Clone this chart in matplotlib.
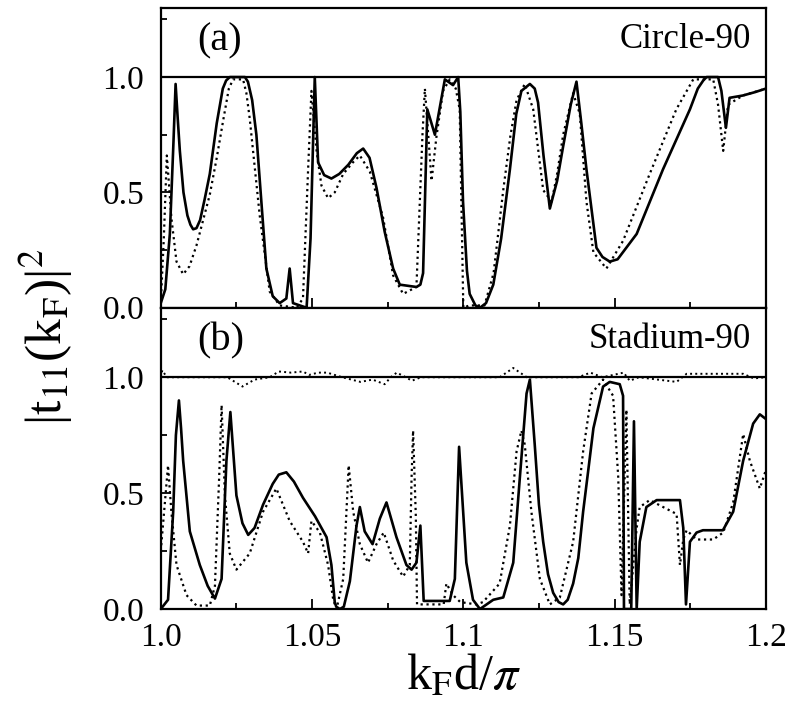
import matplotlib.pyplot as plt
from matplotlib.ticker import MultipleLocator

plt.rcParams['font.family'] = ['Liberation Serif', 'DejaVu Serif']
plt.rcParams['mathtext.fontset'] = 'stix'

# (a) Circle-90
xa_solid = [1.0, 1.0015, 1.003, 1.0042, 1.0049, 1.0056, 1.0063, 1.0075, 1.0088, 1.0098, 1.0107,
            1.0118, 1.013, 1.0145, 1.0162, 1.0185, 1.0205, 1.0216, 1.0228, 1.0278, 1.0288,
            1.0302, 1.0316, 1.0333, 1.0349, 1.037, 1.0393, 1.0415, 1.0426, 1.0437, 1.0482,
            1.0495, 1.0509, 1.052, 1.054, 1.0564, 1.059, 1.062, 1.0648, 1.0669, 1.069, 1.0713,
            1.074, 1.0768, 1.079, 1.0845, 1.0858, 1.0867, 1.0881, 1.0906, 1.0939, 1.0966,
            1.0983, 1.099, 1.0999, 1.1012, 1.1021, 1.104, 1.1055, 1.1075, 1.1099, 1.1125,
            1.1154, 1.1175, 1.1192, 1.122, 1.1236, 1.1247, 1.1265, 1.1286, 1.131, 1.133,
            1.1355, 1.1374, 1.139, 1.1407, 1.144, 1.146, 1.1484, 1.151, 1.1573, 1.166, 1.1749,
            1.1775, 1.1793, 1.1804, 1.1842, 1.1853, 1.1868, 1.188, 1.1924, 1.1965, 1.2]
ya_solid = [0.02, 0.08, 0.32, 0.72, 0.97, 0.82, 0.68, 0.50, 0.40, 0.36, 0.34,
            0.345, 0.38, 0.47, 0.58, 0.80, 0.95, 0.985, 1.0, 1.0, 0.98,
            0.90, 0.75, 0.45, 0.17, 0.05, 0.02, 0.04, 0.17, 0.02, 0.0,
            0.3, 1.0, 0.63, 0.575, 0.56, 0.58, 0.62, 0.67, 0.69, 0.65, 0.52,
            0.33, 0.17, 0.10, 0.09, 0.10, 0.15, 0.86, 0.75, 0.99, 0.965,
            1.0, 0.85, 0.46, 0.16, 0.06, 0.01, 0.0, 0.02, 0.10, 0.30,
            0.60, 0.84, 0.94, 0.97, 0.95, 0.89, 0.66, 0.43, 0.55, 0.70,
            0.88, 0.98, 0.80, 0.60, 0.26, 0.22, 0.20, 0.21, 0.32, 0.60, 0.86,
            0.95, 0.985, 1.0, 1.0, 0.94, 0.78, 0.91, 0.92, 0.935, 0.95]

xa_dot = [1.0, 1.001, 1.002, 1.0028, 1.0035, 1.0052, 1.0074, 1.0095, 1.0118, 1.014, 1.0162,
          1.0185, 1.0206, 1.0225, 1.0239, 1.0272, 1.0283, 1.0294, 1.0327, 1.036, 1.0393,
          1.0449, 1.047, 1.0487, 1.0498, 1.0515, 1.0531, 1.0553, 1.0575, 1.0603, 1.0635,
          1.0658, 1.0691, 1.0735, 1.0768, 1.0801, 1.0845, 1.0865, 1.0873, 1.0895, 1.0911,
          1.0933, 1.0955, 1.0975, 1.0988, 1.1, 1.102, 1.107, 1.11, 1.1132, 1.1155, 1.1176,
          1.1203, 1.1231, 1.1264, 1.1292, 1.131, 1.133, 1.1363, 1.1385, 1.1407, 1.143,
          1.1473, 1.1528, 1.1616, 1.1704, 1.176, 1.1826, 1.1842, 1.1859, 1.1875, 1.1924, 1.2]
ya_dot = [0.02, 0.3, 0.66, 0.52, 0.39, 0.20, 0.145, 0.18, 0.27, 0.38, 0.49,
          0.65, 0.81, 0.95, 0.99, 0.99, 0.93, 0.82, 0.40, 0.07, 0.01,
          0.0, 0.04, 0.60, 0.94, 0.68, 0.53, 0.475, 0.50, 0.58, 0.63,
          0.66, 0.59, 0.39, 0.14, 0.06, 0.09, 0.75, 0.95, 0.55, 0.74,
          0.94, 0.99, 0.95, 0.86, 0.0, 0.01, 0.01, 0.15, 0.51, 0.74, 0.90,
          0.97, 0.86, 0.51, 0.46, 0.58, 0.75, 0.93, 0.84, 0.46, 0.24,
          0.17, 0.29, 0.58, 0.86, 0.99, 0.99, 0.88, 0.68, 0.88, 0.92, 0.95]

# (b) Stadium-90
xb_solid = [1.0, 1.0024, 1.0041, 1.005, 1.006, 1.0067, 1.0074, 1.0096, 1.0129, 1.0155, 1.0179,
            1.0201, 1.0217, 1.023, 1.025, 1.027, 1.0289, 1.031, 1.0338, 1.037, 1.039, 1.0415,
            1.044, 1.047, 1.051, 1.0548, 1.0564, 1.0575, 1.058, 1.0592, 1.0605, 1.0625,
            1.0647, 1.0658, 1.0674, 1.07, 1.0724, 1.0746, 1.0779, 1.0812, 1.0829, 1.0845,
            1.0858, 1.0869, 1.0955, 1.0972, 1.0986, 1.101, 1.1032, 1.1055, 1.1099, 1.1132,
            1.1165, 1.1187, 1.1209, 1.122, 1.1236, 1.125, 1.1264, 1.128, 1.1297, 1.1315,
            1.133, 1.1345, 1.1363, 1.138, 1.1396, 1.1415, 1.143, 1.1462, 1.1484, 1.1517,
            1.1528, 1.1531, 1.1555, 1.1564, 1.1573, 1.1583, 1.1605, 1.1639, 1.1716, 1.1727,
            1.1736, 1.1749, 1.1771, 1.1792, 1.1858, 1.1892, 1.1925, 1.1958, 1.198, 1.2]
yb_solid = [0.0, 0.04, 0.42, 0.75, 0.90, 0.78, 0.64, 0.335, 0.19, 0.10, 0.045,
            0.13, 0.64, 0.85, 0.49, 0.37, 0.32, 0.35, 0.45, 0.54, 0.58, 0.59,
            0.55, 0.48, 0.40, 0.31, 0.19, 0.03, 0.01, 0.0, 0.01, 0.12,
            0.36, 0.44, 0.335, 0.28, 0.39, 0.46, 0.31, 0.19, 0.17, 0.20,
            0.36, 0.035, 0.035, 0.13, 0.70, 0.20, 0.04, 0.0, 0.04, 0.05,
            0.20, 0.57, 0.93, 0.99, 0.71, 0.45, 0.29, 0.15, 0.07, 0.03,
            0.02, 0.04, 0.11, 0.22, 0.42, 0.62, 0.78, 0.96, 0.98, 0.97,
            0.92, 0.0, 0.0, 0.81, 0.0, 0.29, 0.44, 0.47, 0.47, 0.35,
            0.02, 0.29, 0.33, 0.34, 0.34, 0.42, 0.64, 0.80, 0.84, 0.82]

xb_dot = [1.0, 1.0024, 1.0035, 1.0052, 1.0085, 1.0118, 1.0162, 1.0179, 1.0193, 1.0201, 1.0212,
          1.0228, 1.025, 1.0294, 1.0338, 1.0382, 1.0426, 1.047, 1.0487, 1.0498, 1.0526,
          1.0553, 1.057, 1.0581, 1.0603, 1.0621, 1.0636, 1.0658, 1.0685, 1.0713, 1.0737,
          1.0768, 1.0801, 1.0823, 1.0829, 1.0834, 1.0843, 1.0847, 1.0935, 1.0944, 1.0966,
          1.099, 1.1043, 1.1065, 1.112, 1.1154, 1.1176, 1.1192, 1.1203, 1.1225, 1.1253,
          1.1286, 1.1319, 1.1363, 1.1396, 1.1424, 1.1462, 1.1495, 1.1512, 1.1523, 1.1539,
          1.155, 1.1573, 1.1583, 1.1616, 1.1705, 1.1716, 1.1727, 1.1738, 1.1771, 1.1826,
          1.1859, 1.1892, 1.1925, 1.1947, 1.198, 1.2]
yb_dot = [0.25, 0.62, 0.42, 0.19, 0.06, 0.015, 0.015, 0.10, 0.57, 0.88, 0.49,
          0.24, 0.17, 0.24, 0.42, 0.52, 0.38, 0.29, 0.24, 0.38, 0.33,
          0.19, 0.04, 0.0, 0.13, 0.62, 0.42, 0.28, 0.20, 0.28, 0.33,
          0.21, 0.14, 0.19, 0.57, 0.77, 0.40, 0.02, 0.02, 0.11, 0.06,
          0.03, 0.02, 0.03, 0.11, 0.36, 0.68, 0.77, 0.71, 0.42, 0.13,
          0.02, 0.05, 0.29, 0.68, 0.93, 0.99, 0.92, 0.57, 0.06, 0.86,
          0.02, 0.35, 0.44, 0.47, 0.41, 0.19, 0.30, 0.34, 0.30, 0.30,
          0.33, 0.46, 0.755, 0.64, 0.52, 0.60]

# dotted unitarity check around 1.0 in (b)
xb_sum = [1.0, 1.0005, 1.002, 1.022, 1.027, 1.031, 1.036, 1.039, 1.043, 1.047, 1.049, 1.052,
          1.055, 1.06, 1.066, 1.07, 1.074, 1.076, 1.078, 1.081, 1.083, 1.086, 1.112, 1.1165,
          1.121, 1.138, 1.142, 1.146, 1.153, 1.155, 1.158, 1.1705, 1.1738, 1.1925, 1.196, 1.2]
yb_sum = [1.0, 1.03, 1.0, 1.0, 0.96, 0.99, 1.0, 1.025, 1.02, 1.025, 1.01, 1.02,
          1.02, 1.0, 0.98, 0.99, 0.97, 1.0, 1.02, 1.0, 0.985, 1.0, 1.0, 1.04,
          1.0, 1.0, 1.02, 1.0, 1.02, 0.985, 1.0, 0.98, 1.015, 1.015, 0.995, 1.0]

panels = [("(a)", "Circle-90", xa_solid, ya_solid, xa_dot, ya_dot),
          ("(b)", "Stadium-90", xb_solid, yb_solid, xb_dot, yb_dot)]

fig = plt.figure(figsize=(7.92, 7.14), dpi=100)
ax_top = fig.add_axes([0.203, 0.569, 0.764, 0.42])
ax_bot = fig.add_axes([0.203, 0.147, 0.764, 0.422], sharex=ax_top)

for ax, (tag, name, xs, ys, xd, yd) in zip([ax_top, ax_bot], panels):
    ax.axhline(1.0, color='black', lw=1.6, zorder=3)
    ax.plot(xd, yd, color='black', linestyle=':', lw=1.6)
    ax.plot(xs, ys, color='black', lw=1.9)
    ax.set_xlim(1.0, 1.2)
    ax.set_ylim(0.0, 1.3)
    ax.yaxis.set_major_locator(MultipleLocator(0.5))
    ax.yaxis.set_minor_locator(MultipleLocator(0.25))
    ax.xaxis.set_major_locator(MultipleLocator(0.05))
    ax.xaxis.set_minor_locator(MultipleLocator(0.025))
    ax.tick_params(which='both', direction='in', labelsize=24, width=1.3)
    ax.tick_params(which='major', length=7)
    ax.tick_params(which='minor', length=4)
    ax.tick_params(axis='y', pad=12)
    for s in ax.spines.values():
        s.set_linewidth(1.6)
    ax.set_yticks([0.0, 0.5, 1.0])
    ax.set_yticklabels(["0.0", "0.5", "1.0"])
    ax.text(0.06, 0.95, tag, transform=ax.transAxes, fontsize=29, va='top', ha='left')
    ax.text(0.975, 0.95, name, transform=ax.transAxes, fontsize=25, va='top', ha='right')

ax_bot.plot(xb_sum, yb_sum, color='black', linestyle=':', lw=1.4)

plt.setp(ax_top.get_xticklabels(), visible=False)
ax_bot.set_xticks([1.0, 1.05, 1.1, 1.15, 1.2])
ax_bot.set_xticklabels(["1.0", "1.05", "1.1", "1.15", "1.2"])
ax_bot.tick_params(axis='x', pad=10)
ax_bot.set_xlabel(r"k$_\mathrm{F}$d/$\pi$", fontsize=36, labelpad=0)
fig.text(0.058, 0.528, r"|t$_{11}$(k$_\mathrm{F}$)|$^2$", rotation=90, fontsize=37,
         ha='center', va='center')

plt.savefig("out.png", dpi=100)
